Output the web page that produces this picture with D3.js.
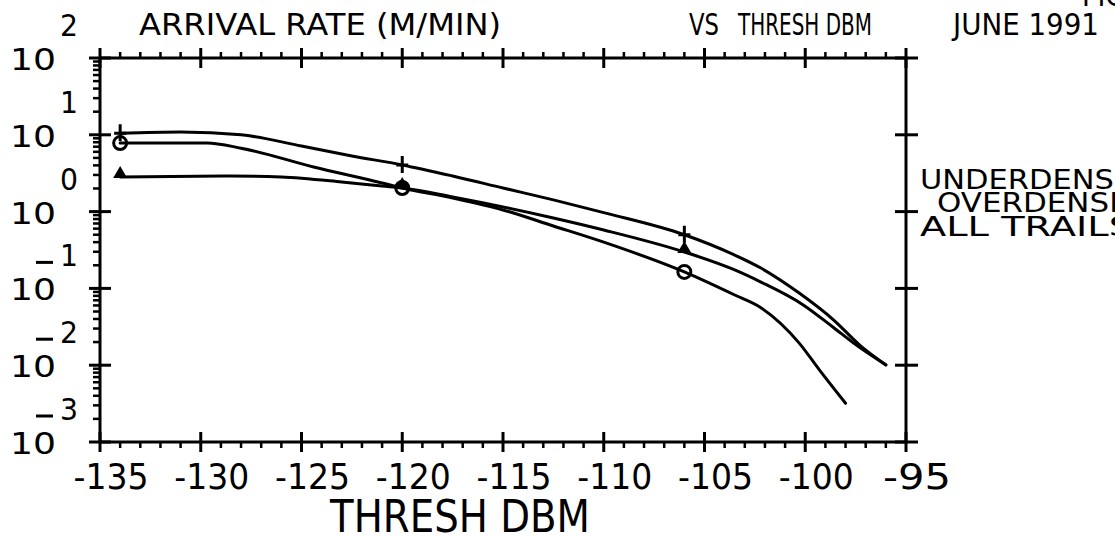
<!DOCTYPE html>
<html>
<head>
<meta charset="utf-8">
<script src="https://cdn.jsdelivr.net/npm/d3@7"></script>
<style>
  html, body { margin: 0; padding: 0; background: #fff; }
  svg { display: block; }
  text { font-family: "DejaVu Sans", sans-serif; fill: #000; }
</style>
</head>
<body>
<svg id="chart" width="1115" height="538"></svg>
<script>
// ---------- data ----------
const xTickValues = [-135, -130, -125, -120, -115, -110, -105, -100, -95];
const xTickLabels = ["-135", "-130", "-125", "-120", "-115", "-110", "-105", "-100", "-95"];
const yDecadeExponents = [2, 1, 0, -1, -2, -3];

const titleLeft = "ARRIVAL RATE (M/MIN)";
const titleVs = "VS";
const titleRight = "THRESH DBM";
const titleDate = "JUNE 1991";
const titleCorner = "FIG";
const xAxisTitle = "THRESH DBM";
const legendLabels = ["UNDERDENSE", "OVERDENSE", "ALL TRAILS"];

// ALL TRAILS (plus markers)
const allX = [-134, -131, -128, -125, -122.5, -120, -117.5, -115, -112.5, -110, -106, -103.5, -102.2, -100.3, -98.6, -97.3, -96];
const allY = [10.5, 10.9, 10.0, 7.14, 5.3, 4.05, 2.91, 2.03, 1.42, 0.97, 0.50, 0.272, 0.184, 0.087, 0.039, 0.0183, 0.0101];

// UNDERDENSE (filled triangle markers)
const underX = [-134, -128.5, -126, -123, -121, -120, -117.5, -115, -112.5, -110, -106, -103.5, -102.2, -100.1, -98.6, -97.6, -96];
const underY = [2.82, 2.91, 2.82, 2.43, 2.15, 2.03, 1.55, 1.15, 0.826, 0.576, 0.298, 0.174, 0.121, 0.061, 0.031, 0.0194, 0.0101];

// OVERDENSE (circle markers)
const overX = [-134, -129.7, -128, -124.4, -121, -120, -117.5, -115, -112.5, -110, -106, -103.5, -102.2, -100.3, -99.3, -98];
const overY = [7.8, 7.8, 6.7, 3.81, 2.36, 2.03, 1.50, 1.05, 0.65, 0.40, 0.164, 0.082, 0.056, 0.0194, 0.0087, 0.0032];

// marker positions (thresholds where the runs were measured)
const markerX = [-134, -120, -106];
const allMarkY = [10.5, 4.05, 0.50];
const underMarkY = [2.82, 2.03, 0.298];
const overMarkY = [7.8, 2.03, 0.164];

// ---------- drawing ----------
const svg = d3.select("#chart");
const L = 100, R = 906, T = 58, B = 442;
const x = d3.scaleLinear().domain([-135, -95]).range([L, R]);
const y = d3.scaleLog().domain([1e-3, 1e2]).range([B, T]);

const axisG = svg.append("g").attr("stroke", "#000").attr("stroke-width", 3).attr("fill", "none");
axisG.append("line").attr("x1", L).attr("x2", R).attr("y1", y(1e2)).attr("y2", y(1e2));
axisG.append("line").attr("x1", L).attr("x2", R).attr("y1", y(1e-3)).attr("y2", y(1e-3));
axisG.append("line").attr("x1", x(-135)).attr("x2", x(-135)).attr("y1", T).attr("y2", B);
axisG.append("line").attr("x1", x(-95)).attr("x2", x(-95)).attr("y1", T).attr("y2", B);

// x minor ticks (every 1 dB)
const xMinor = d3.range(-135, -94, 1).filter(v => v % 5 !== 0);
const tg = svg.append("g").attr("stroke", "#000").attr("stroke-width", 2.5);
tg.selectAll(".xmb").data(xMinor).join("line")
  .attr("x1", d => x(d)).attr("x2", d => x(d)).attr("y1", B).attr("y2", B + 6);
tg.selectAll(".xmt").data(xMinor).join("line")
  .attr("x1", d => x(d)).attr("x2", d => x(d)).attr("y1", T).attr("y2", T - 6);
tg.selectAll(".xMb").data(xTickValues).join("line")
  .attr("x1", d => x(d)).attr("x2", d => x(d)).attr("y1", B - 10).attr("y2", B + 10).attr("stroke-width", 3);
tg.selectAll(".xMt").data(xTickValues).join("line")
  .attr("x1", d => x(d)).attr("x2", d => x(d)).attr("y1", T - 10).attr("y2", T + 10).attr("stroke-width", 3);

// y minor ticks on left (log 2..9)
const yMinor = [];
yDecadeExponents.slice(1).forEach(e => { for (let k = 2; k <= 9; k++) yMinor.push(k * Math.pow(10, e)); });
tg.selectAll(".ymin").data(yMinor).join("line")
  .attr("x1", L - 7).attr("x2", L).attr("y1", d => y(d)).attr("y2", d => y(d));
tg.selectAll(".yMl").data(yDecadeExponents).join("line")
  .attr("x1", L - 11).attr("x2", L + 11)
  .attr("y1", d => y(Math.pow(10, d))).attr("y2", d => y(Math.pow(10, d))).attr("stroke-width", 3);
tg.selectAll(".yMr").data(yDecadeExponents).join("line")
  .attr("x1", R - 11).attr("x2", R + 12)
  .attr("y1", d => y(Math.pow(10, d))).attr("y2", d => y(Math.pow(10, d))).attr("stroke-width", 3);

// y labels: 10 with exponent
const yl = svg.append("g");
yDecadeExponents.forEach(e => {
  const yy = y(Math.pow(10, e));
  yl.append("text").attr("x", 10).attr("y", yy + 12).attr("font-size", 31)
    .attr("textLength", 46).attr("lengthAdjust", "spacingAndGlyphs").text("10");
  yl.append("text").attr("x", 60).attr("y", yy - 22).attr("font-size", 31)
    .attr("textLength", 18).attr("lengthAdjust", "spacingAndGlyphs").text(String(Math.abs(e)));
  if (e < 0) {
    yl.append("line").attr("x1", 36).attr("x2", 53).attr("y1", yy - 26).attr("y2", yy - 26)
      .attr("stroke", "#000").attr("stroke-width", 3);
  }
});

// x tick labels
svg.append("g").selectAll("text").data(xTickValues).join("text")
  .attr("x", d => x(d) + 11).attr("y", 489)
  .attr("text-anchor", "middle").attr("font-size", 36)
  .attr("textLength", (d, i) => xTickLabels[i].length === 4 ? 75 : 68)
  .attr("lengthAdjust", "spacingAndGlyphs")
  .text((d, i) => xTickLabels[i]);

// axis title
svg.append("text").attr("x", 330).attr("y", 532).attr("font-size", 44)
  .attr("textLength", 260).attr("lengthAdjust", "spacingAndGlyphs").text(xAxisTitle);

// titles
const tt = [
  { s: titleLeft, x0: 139, w: 362 },
  { s: titleVs, x0: 689, w: 30 },
  { s: titleRight, x0: 738, w: 134 },
  { s: titleDate, x0: 953, w: 146 }
];
svg.append("g").selectAll("text").data(tt).join("text")
  .attr("x", d => d.x0).attr("y", 35).attr("font-size", 30)
  .attr("textLength", d => d.w).attr("lengthAdjust", "spacingAndGlyphs")
  .text(d => d.s);
svg.append("text").attr("x", 1082).attr("y", 6).attr("font-size", 30)
  .attr("textLength", 44).attr("lengthAdjust", "spacingAndGlyphs").text(titleCorner);

// legend text
const legPos = [{ x0: 920, y0: 189 }, { x0: 937, y0: 212 }, { x0: 920, y0: 236 }];
svg.append("g").selectAll("text").data(legendLabels).join("text")
  .attr("x", (d, i) => legPos[i].x0).attr("y", (d, i) => legPos[i].y0)
  .attr("font-size", 26)
  .attr("textLength", d => d.length * 21.3).attr("lengthAdjust", "spacingAndGlyphs")
  .text(d => d);

// curves
const line = d3.line().x(d => x(d[0])).y(d => y(d[1])).curve(d3.curveMonotoneX);
const series = [d3.zip(allX, allY), d3.zip(underX, underY), d3.zip(overX, overY)];
svg.append("g").selectAll("path").data(series).join("path")
  .attr("d", line).attr("fill", "none").attr("stroke", "#000").attr("stroke-width", 3)
  .attr("stroke-linejoin", "round").attr("stroke-linecap", "round");

// markers
const mk = svg.append("g");
mk.selectAll(".plus").data(d3.zip(markerX, allMarkY)).join("path")
  .attr("d", d => { const cx = x(d[0]), cy = y(d[1]); return `M${cx - 6},${cy}H${cx + 6}M${cx},${cy - 9}V${cy + 8}`; })
  .attr("stroke", "#000").attr("stroke-width", 3).attr("fill", "none");
mk.selectAll(".tri").data(d3.zip(markerX, underMarkY)).join("path")
  .attr("d", d3.symbol().type(d3.symbolTriangle).size(85))
  .attr("transform", d => `translate(${x(d[0])},${y(d[1]) - 3})`)
  .attr("fill", "#000");
mk.selectAll(".circ").data(d3.zip(markerX, overMarkY)).join("circle")
  .attr("cx", d => x(d[0])).attr("cy", d => y(d[1])).attr("r", 6.5)
  .attr("fill", "none").attr("stroke", "#000").attr("stroke-width", 3);
</script>
</body>
</html>
